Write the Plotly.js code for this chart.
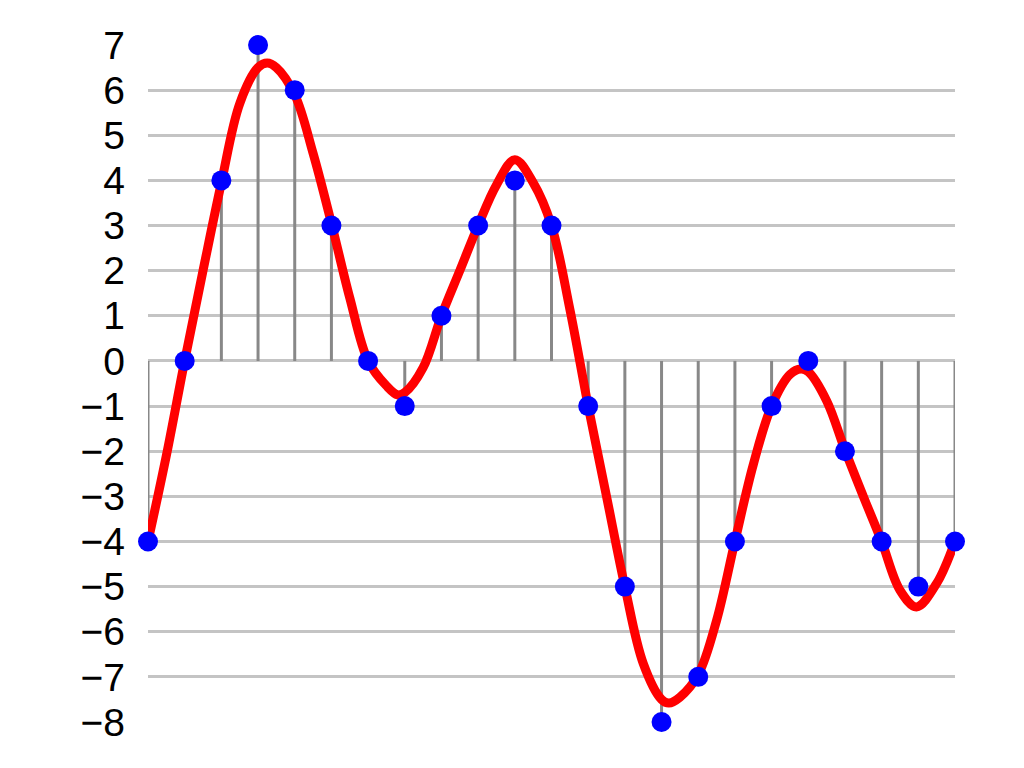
<!DOCTYPE html>
<html>
<head>
<meta charset="utf-8">
<script src="https://cdn.plot.ly/plotly-3.0.1.min.js"></script>
<style>html,body{margin:0;padding:0;background:#fff;}#chart{width:1024px;height:768px;}</style>
</head>
<body>
<div id="chart"></div>
<script>
// Sample indices and sampled values
const sampleIndex = [0,1,2,3,4,5,6,7,8,9,10,11,12,13,14,15,16,17,18,19,20,21,22];
const sampleValue = [-4,0,4,7,6,3,0,-1,1,3,4,3,-1,-5,-8,-7,-4,-1,0,-2,-4,-5,-4];

// Continuous (reconstructed) signal
const curveX = [0,0.5,1,1.5,2,2.5,3,3.25,3.5,4,4.5,5,5.5,6,6.5,6.8,7,7.5,8,8.5,9,9.5,10,10.5,11,11.5,12,12.5,13,13.5,14,14.2,14.5,15,15.5,16,16.5,17,17.5,17.8,18,18.5,19,19.5,20,20.5,20.95,21.5,22];
const curveY = [-4,-2.1,0,2.0,3.95,5.7,6.5,6.6,6.5,5.9,4.6,3.05,1.4,0,-0.55,-0.75,-0.7,-0.15,1.0,2.0,3.0,3.9,4.46,3.95,3.0,1.15,-1.0,-3.0,-5.0,-6.7,-7.5,-7.58,-7.45,-6.95,-5.75,-4.0,-2.3,-1.0,-0.3,-0.18,-0.24,-0.88,-1.97,-3.0,-4.0,-5.08,-5.45,-4.93,-4.0];

const yTicks = [7,6,5,4,3,2,1,0,-1,-2,-3,-4,-5,-6,-7,-8];

// Build stems from the sample arrays
const stemX = [], stemY = [];
sampleIndex.forEach((x, i) => { stemX.push(x, x, null); stemY.push(0, sampleValue[i], null); });

const traces = [
  {x: stemX, y: stemY, mode: 'lines', line: {color: '#888888', width: 3}, hoverinfo: 'skip', cliponaxis: false},
  {x: curveX, y: curveY, mode: 'lines', line: {color: '#ff0000', width: 9, shape: 'spline', smoothing: 1}, cliponaxis: false},
  {x: sampleIndex, y: sampleValue, mode: 'markers', marker: {color: '#0000ff', size: 20}, cliponaxis: false}
];

const layout = {
  width: 1024, height: 768,
  margin: {l: 148, r: 69, t: 45, b: 46},
  paper_bgcolor: '#ffffff', plot_bgcolor: '#ffffff',
  showlegend: false,
  font: {family: '"Liberation Sans", Arial, sans-serif', color: '#000000'},
  xaxis: {range: [0, 22], showgrid: false, zeroline: false, showticklabels: false, ticks: '', showline: false, fixedrange: true},
  yaxis: {range: [-8, 7], tickvals: yTicks, ticktext: yTicks.map(v => v < 0 ? '\u2212' + Math.abs(v) : String(v)),
          showgrid: true, gridcolor: '#c4c4c4', gridwidth: 3, zeroline: false, showline: false, ticks: '',
          tickfont: {size: 39, family: '"Liberation Sans", Arial, sans-serif', color: '#000'}, ticklabelstandoff: 22, fixedrange: true}
};

Plotly.newPlot('chart', traces, layout, {displayModeBar: false, staticPlot: true});
</script>
</body>
</html>
